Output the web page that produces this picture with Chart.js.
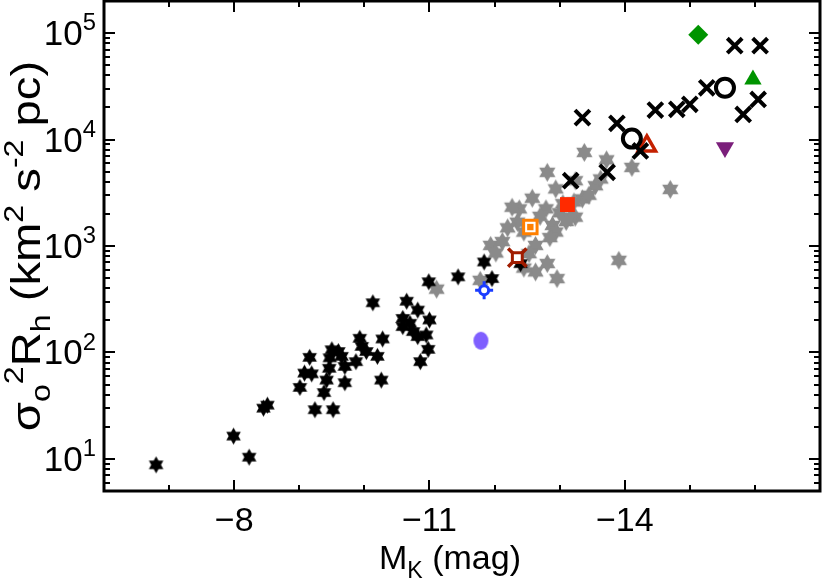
<!DOCTYPE html>
<html>
<head>
<meta charset="utf-8">
<script src="https://cdn.jsdelivr.net/npm/chart.js@4.4.1/dist/chart.umd.min.js"></script>
<style>
  html, body { margin: 0; padding: 0; background: #fff; overflow: hidden; }
  canvas { display: block; }
</style>
</head>
<body>
<canvas id="myChart" width="822" height="581"></canvas>
<script>
// absolute K magnitude (x) and sigma^2 * Rh (y) for every group of objects
const blackStarMK = [-6.80, -7.99, -8.23, -8.45, -8.51, -9.01, -9.08, -9.16, -9.19, -9.24,
  -9.38, -9.42, -9.46, -9.47, -9.50, -9.52, -9.60, -9.65, -9.70, -9.70,
  -9.87, -9.93, -9.96, -10.03, -10.13, -10.20, -10.26, -10.28, -10.59, -10.59,
  -10.65, -10.70, -10.75, -10.82, -10.82, -10.86, -10.95, -10.98, -11.00, -10.99,
  -11.44, -11.84, -11.96, -12.40];
const blackStarSR = [8.8, 16.4, 10.4, 30, 32, 47, 64, 90, 63, 29,
  42, 55, 71, 89, 106, 29, 102, 92, 74, 52,
  82, 136, 114, 102, 293, 92, 55, 134, 209, 175,
  303, 188, 157, 250, 141, 82, 146, 107, 202, 461,
  513, 708, 494, 683];

const grayStarMK = [-11.11, -11.78, -11.94, -12.12, -12.38, -12.35, -12.63, -12.63, -12.81, -12.96,
  -12.89, -12.94, -12.79, -12.58, -12.81, -12.94, -13.24, -13.55, -13.63, -13.35,
  -13.24, -13.38, -13.72, -14.11, -14.70, -13.91, -13.22, -12.53, -13.17, -12.45,
  -12.27, -13.05, -12.70, -13.00, -13.10, -12.85, -12.20, -13.45, -12.45, -12.02];
const grayStarSR = [393, 476, 1013, 1100, 2234, 1675, 1013, 571, 684, 494,
  1560, 1352, 2234, 2809, 4919, 3436, 4105, 3683, 4260, 2767,
  1866, 7565, 6447, 5470, 3400, 733, 2590, 847, 1866, 1350,
  2312, 2500, 1900, 2050, 1700, 1200, 1480, 3000, 620, 860];

const crossMK = [-15.69, -16.08, -13.35, -13.88, -14.47, -14.80, -15.00, -15.26, -15.82, -16.05,
  -14.24, -13.73, -13.17];
const crossSR = [76100, 76100, 16060, 14200, 18900, 19200, 21400, 30600, 17200, 23800,
  7820, 4920, 4105];

const ringMK = [-14.11, -15.54];
const ringSR = [10200, 30600];

const diamondMK = [-15.13];     const diamondSR = [96400];
const upTriMK = [-15.97];       const upTriSR = [36600];
const downTriMK = [-15.54];     const downTriSR = [8410];
const openTriMK = [-14.34];     const openTriSR = [8710];
const redSquareMK = [-13.12];   const redSquareSR = [2450];
const orangeMK = [-12.55];      const orangeSR = [1506];
const maroonMK = [-12.35];      const maroonSR = [778];
const blueMK = [-11.84];        const blueSR = [385];
const violetMK = [-11.79];      const violetSR = [129];

// axis ticks
const xMinorTicks = [-7, -8, -9, -10, -11, -12, -13, -14, -15, -16];
const xTickLabels = [-8, -11, -14];
const yTickExponents = [1, 2, 3, 4, 5];

function pts(xs, ys) {
  return xs.map((v, i) => ({ x: v, y: ys[i] }));
}

// filled six pointed star drawn on a small canvas, used as point style
function hexagram(fill, r) {
  const size = Math.ceil(2 * r + 2);
  const c = document.createElement('canvas');
  c.width = size; c.height = size;
  const g = c.getContext('2d');
  const cx = size / 2, cy = size / 2;
  g.beginPath();
  for (let i = 0; i < 12; i++) {
    const a = -Math.PI / 2 + i * Math.PI / 6;
    const rr = i % 2 === 0 ? r : r / Math.sqrt(3);
    g.lineTo(cx + rr * Math.cos(a), cy + rr * Math.sin(a));
  }
  g.closePath();
  g.fillStyle = fill;
  g.fill();
  return c;
}

function ellipse(fill, rx, ry) {
  const c = document.createElement('canvas');
  c.width = Math.ceil(2 * rx + 2); c.height = Math.ceil(2 * ry + 2);
  const g = c.getContext('2d');
  g.beginPath();
  g.ellipse(c.width / 2, c.height / 2, rx, ry, 0, 0, 2 * Math.PI);
  g.fillStyle = fill;
  g.fill();
  return c;
}

const FONT = '"Liberation Sans", Arial, Helvetica, sans-serif';

// draws a run of text pieces (normal / sub / sup)
function richText(ctx, parts, x, y, base, align) {
  let total = 0;
  parts.forEach(p => {
    ctx.font = (p.s ? base * 0.68 : base) + 'px ' + FONT;
    p.w = ctx.measureText(p.t).width;
    total += p.w;
  });
  let cx = align === 'center' ? x - total / 2 : (align === 'right' ? x - total : x);
  ctx.textAlign = 'left';
  ctx.textBaseline = 'alphabetic';
  parts.forEach(p => {
    ctx.font = (p.s ? base * 0.68 : base) + 'px ' + FONT;
    let dy = 0;
    if (p.s === 'sub') dy = base * 0.25;
    if (p.s === 'sup') dy = -base * 0.42;
    ctx.fillText(p.t, cx, y + dy);
    cx += p.w;
  });
}

const axesPlugin = {
  id: 'axesPlugin',
  afterDatasetsDraw(chart) {
    const { ctx, chartArea: a, scales } = chart;
    const x = scales.x, y = scales.y;
    ctx.save();
    ctx.strokeStyle = '#000';
    ctx.fillStyle = '#000';

    // x ticks, top and bottom
    ctx.lineWidth = 2;
    ctx.beginPath();
    xMinorTicks.forEach(v => {
      const px = Math.round(x.getPixelForValue(v));
      const len = xTickLabels.includes(v) ? 11 : 6;
      ctx.moveTo(px, a.bottom); ctx.lineTo(px, a.bottom - len);
      ctx.moveTo(px, a.top); ctx.lineTo(px, a.top + len);
    });
    // y ticks, left and right
    for (let e = 0; e <= 5; e++) {
      for (let m = 1; m <= 9; m++) {
        const v = m * Math.pow(10, e);
        if (v < y.min || v > y.max) continue;
        const py = Math.round(y.getPixelForValue(v));
        const len = m === 1 ? 11 : 6;
        ctx.moveTo(a.left, py); ctx.lineTo(a.left + len, py);
        ctx.moveTo(a.right, py); ctx.lineTo(a.right - len, py);
      }
    }
    ctx.stroke();

    // frame
    ctx.lineWidth = 3;
    ctx.strokeRect(a.left, a.top, a.right - a.left, a.bottom - a.top);

    // x tick labels
    ctx.textAlign = 'center';
    ctx.textBaseline = 'alphabetic';
    ctx.font = '34px ' + FONT;
    xTickLabels.forEach(v => {
      ctx.fillText('\u2212' + Math.abs(v), x.getPixelForValue(v), 531);
    });

    // y tick labels 10^n
    yTickExponents.forEach(n => {
      const py = y.getPixelForValue(Math.pow(10, n));
      richText(ctx, [{ t: '10' }, { t: String(n), s: 'sup' }], 96, py + 12, 35, 'right');
    });

    // x title
    richText(ctx, [{ t: 'M' }, { t: 'K', s: 'sub' }, { t: ' (mag)' }], 450, 569, 34, 'center');

    // y title, stretched along its length like the original
    ctx.translate(40, (a.top + a.bottom) / 2);
    ctx.rotate(-Math.PI / 2);
    ctx.scale(1.18, 1);
    richText(ctx, [
      { t: '\u03c3' }, { t: 'o', s: 'sub' }, { t: '2', s: 'sup' },
      { t: 'R' }, { t: 'h', s: 'sub' },
      { t: ' (km' }, { t: '2', s: 'sup' }, { t: ' s' }, { t: '-2', s: 'sup' }, { t: ' pc)' }
    ], 0, 0, 40, 'center');
    ctx.restore();
  }
};

const ctx = document.getElementById('myChart').getContext('2d');

const chart = new Chart(ctx, {
  type: 'scatter',
  data: {
    datasets: [
      { label: 'blue', data: pts(blueMK, blueSR), pointStyle: 'circle', radius: 4.5,
        backgroundColor: '#fff', borderColor: '#1a3cff', borderWidth: 3 },
      { label: 'blue cross', data: pts(blueMK, blueSR), pointStyle: 'cross', radius: 9,
        borderColor: '#1a3cff', borderWidth: 3 },
      { label: 'maroon box', data: pts(maroonMK, maroonSR), pointStyle: 'rect', radius: 7,
        backgroundColor: '#fff', borderColor: '#a01c00', borderWidth: 3 },
      { label: 'maroon cross', data: pts(maroonMK, maroonSR), pointStyle: 'crossRot', radius: 13,
        borderColor: '#a01c00', borderWidth: 3.5 },
      { label: 'orange inner', data: pts(orangeMK, orangeSR), pointStyle: 'rect', radius: 4.5,
        backgroundColor: '#ff8000', borderWidth: 0 },
      { label: 'orange box', data: pts(orangeMK, orangeSR), pointStyle: 'rect', radius: 9.5,
        backgroundColor: '#fff', borderColor: '#ff8000', borderWidth: 3 },
      { label: 'violet', data: pts(violetMK, violetSR), pointStyle: ellipse('#7f5fff', 7.5, 9), radius: 8 },
      { label: 'red square', data: pts(redSquareMK, redSquareSR), pointStyle: 'rect', radius: 10.5,
        backgroundColor: '#ff2a00', borderWidth: 0 },
      { label: 'crosses', data: pts(crossMK, crossSR), pointStyle: 'crossRot', radius: 10.5,
        borderColor: '#000', borderWidth: 4 },
      { label: 'rings', data: pts(ringMK, ringSR), pointStyle: 'circle', radius: 9,
        backgroundColor: 'rgba(0,0,0,0)', borderColor: '#000', borderWidth: 4 },
      { label: 'open triangle', data: pts(openTriMK, openTriSR), pointStyle: 'triangle', radius: 10,
        backgroundColor: 'rgba(0,0,0,0)', borderColor: '#c42000', borderWidth: 3.5 },
      { label: 'diamond', data: pts(diamondMK, diamondSR), pointStyle: 'rectRot', radius: 10,
        backgroundColor: '#009400', borderWidth: 0 },
      { label: 'up triangle', data: pts(upTriMK, upTriSR), pointStyle: 'triangle', radius: 10,
        backgroundColor: '#009400', borderWidth: 0 },
      { label: 'down triangle', data: pts(downTriMK, downTriSR), pointStyle: 'triangle', rotation: 180,
        radius: 10.5, backgroundColor: '#7b1f7b', borderWidth: 0 },
      { label: 'black stars', data: pts(blackStarMK, blackStarSR), pointStyle: hexagram('#000', 8.4), radius: 8 },
      { label: 'gray stars', data: pts(grayStarMK, grayStarSR), pointStyle: hexagram('#8a8a8a', 9.4), radius: 8 }
    ]
  },
  options: {
    responsive: false,
    animation: false,
    devicePixelRatio: 1,
    layout: { autoPadding: false, padding: { left: 104, right: 2, top: 1, bottom: 90 } },
    plugins: { legend: { display: false }, tooltip: { enabled: false } },
    scales: {
      x: { type: 'linear', min: -17, max: -6, reverse: true, display: false },
      y: { type: 'logarithmic', min: 5, max: 2e5, display: false }
    }
  },
  plugins: [axesPlugin]
});
</script>
</body>
</html>
